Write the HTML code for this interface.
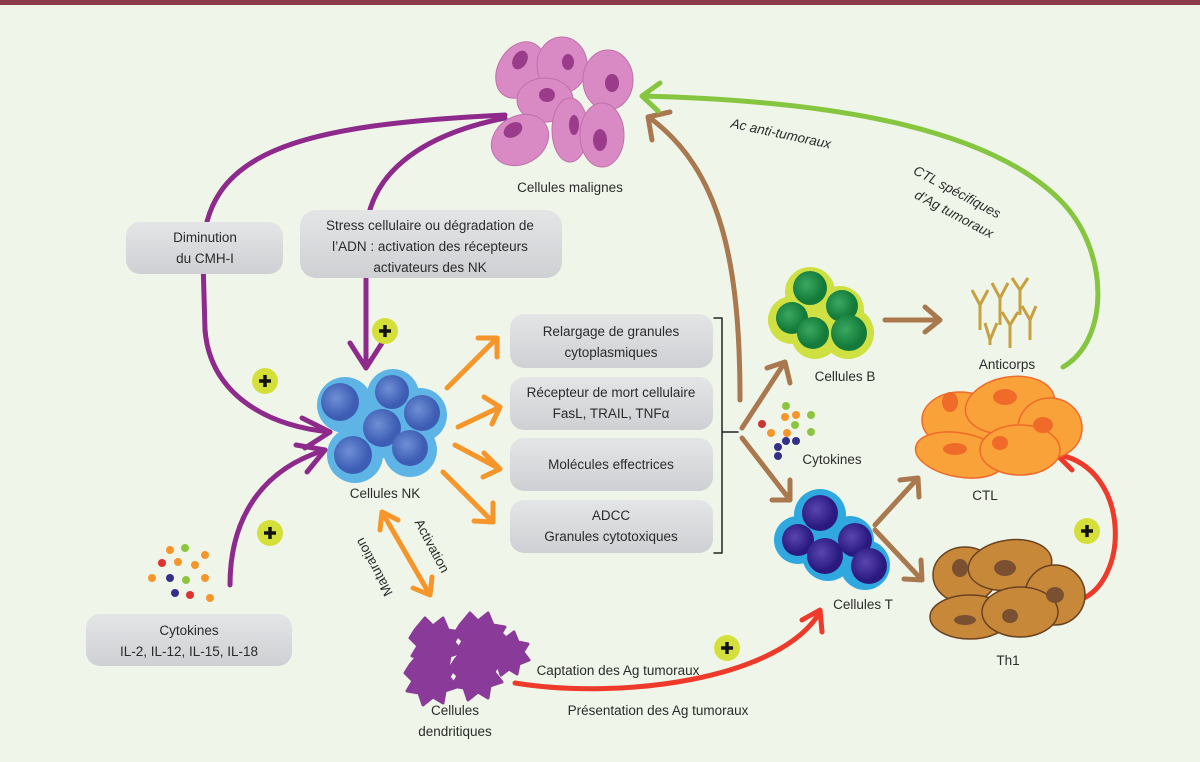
<!DOCTYPE html>
<html><head><meta charset="utf-8"><style>
body{margin:0;width:1200px;height:757px;overflow:hidden;background:#eff6e9;font-family:"Liberation Sans",sans-serif}
svg text{font-family:"Liberation Sans",sans-serif;font-size:13.5px;fill:#2b2b2b}
</style></head><body>
<svg width="1200" height="757" viewBox="0 0 1200 757" xmlns="http://www.w3.org/2000/svg">
<defs>
<linearGradient id="box" x1="0" y1="0" x2="0" y2="1"><stop offset="0" stop-color="#e4e5e7"/><stop offset="1" stop-color="#cfd0d3"/></linearGradient>
<radialGradient id="blue" cx=".4" cy=".4"><stop offset="0" stop-color="#6f8fd6"/><stop offset="1" stop-color="#3c5db3"/></radialGradient>
<radialGradient id="grn" cx=".4" cy=".4"><stop offset="0" stop-color="#3aa860"/><stop offset="1" stop-color="#137a3a"/></radialGradient>
<radialGradient id="tc" cx=".4" cy=".4"><stop offset="0" stop-color="#5a45b0"/><stop offset="1" stop-color="#2a1a80"/></radialGradient>
</defs>
<rect x="0" y="0" width="1200" height="5" fill="#8b3a4a"/>

<g fill="none" stroke-linecap="round" stroke-linejoin="round">
<!-- purple -->
<path d="M505,115 C300,125 200,150 203,260 L205,330 C210,390 260,425 330,432" stroke="#8e2a8c" stroke-width="5"/>
<path d="M505,118 C420,135 365,175 366,240 L366,368" stroke="#8e2a8c" stroke-width="5"/>
<path d="M230,585 C230,520 260,470 325,450" stroke="#8e2a8c" stroke-width="5"/>
<path d="M350,343 L366,368 L382,343" stroke="#8e2a8c" stroke-width="5"/>
<path d="M302,418 L330,432 L305,448" stroke="#8e2a8c" stroke-width="5"/>
<path d="M296,445 L325,450 L307,472" stroke="#8e2a8c" stroke-width="5"/>
<!-- orange -->
<g stroke="#f6962a" stroke-width="5">
<path d="M447,388 L497,338 M478,338 L497,338 L497,357"/>
<path d="M458,427 L500,407 M484,397 L500,407 L492,424"/>
<path d="M455,445 L500,469 M484,453 L500,469 L483,477"/>
<path d="M443,472 L493,522 M474,521 L493,522 L493,503"/>
<path d="M382,512 L430,595 M380,530 L382,512 L398,520 M413,588 L430,595 L432,577"/>
</g>
<!-- bracket -->
<path d="M714,318 L722,318 L722,553 L714,553 M722,432 L738,432" stroke="#222" stroke-width="1.5"/>
<!-- brown -->
<g stroke="#a9784e" stroke-width="5">
<path d="M740,400 C740,260 720,170 650,118 M652,140 L648,117 L670,112"/>
<path d="M742,428 L785,362 M767,368 L785,362 L790,383"/>
<path d="M742,438 L790,500 M772,500 L790,500 L790,480"/>
<path d="M885,320 L940,320 M925,307 L940,320 L925,332"/>
<path d="M875,525 L918,478 M900,480 L918,478 L919,497"/>
<path d="M875,530 L922,580 M904,579 L922,580 L921,560"/>
</g>
<!-- green -->
<path d="M1063,367 C1110,340 1110,250 1060,200 C980,120 800,100 642,96 M660,83 L642,96 L658,111" stroke="#86c540" stroke-width="5"/>
<!-- red -->
<path d="M515,683 C620,700 780,680 820,612 M802,620 L820,610 L822,632" stroke="#ee3a2a" stroke-width="5"/>
<path d="M1080,600 C1130,580 1130,470 1060,455 M1075,443 L1057,455 L1072,470" stroke="#ee3a2a" stroke-width="5"/>
</g>

<!-- plus circles -->
<g>
<g transform="translate(265,381)"><circle r="13" fill="#d5df3a"/><path d="M-6,0H6M0,-6V6" stroke="#111" stroke-width="3.5"/></g>
<g transform="translate(385,331)"><circle r="13" fill="#d5df3a"/><path d="M-6,0H6M0,-6V6" stroke="#111" stroke-width="3.5"/></g>
<g transform="translate(270,533)"><circle r="13" fill="#d5df3a"/><path d="M-6,0H6M0,-6V6" stroke="#111" stroke-width="3.5"/></g>
<g transform="translate(727,648)"><circle r="13" fill="#d5df3a"/><path d="M-6,0H6M0,-6V6" stroke="#111" stroke-width="3.5"/></g>
<g transform="translate(1087,531)"><circle r="13" fill="#d5df3a"/><path d="M-6,0H6M0,-6V6" stroke="#111" stroke-width="3.5"/></g>
</g>

<!-- boxes -->
<g fill="url(#box)">
<rect x="126" y="222" width="157" height="52" rx="14"/>
<rect x="300" y="210" width="262" height="68" rx="16"/>
<rect x="510" y="314" width="203" height="54" rx="14"/>
<rect x="510" y="377" width="203" height="53" rx="14"/>
<rect x="510" y="438" width="203" height="53" rx="14"/>
<rect x="510" y="500" width="203" height="53" rx="14"/>
<rect x="86" y="614" width="206" height="52" rx="14"/>
</g>

<!-- malignant cells -->
<g fill="#d98ac4" stroke="#c070aa" stroke-width="1">
<ellipse cx="520" cy="70" rx="22" ry="30" transform="rotate(30 520 70)"/>
<ellipse cx="562" cy="65" rx="25" ry="28"/>
<ellipse cx="608" cy="80" rx="25" ry="30"/>
<ellipse cx="545" cy="100" rx="28" ry="22"/>
<ellipse cx="520" cy="140" rx="30" ry="24" transform="rotate(-30 520 140)"/>
<ellipse cx="570" cy="130" rx="18" ry="32"/>
<ellipse cx="602" cy="135" rx="22" ry="32"/>
</g>
<g fill="#9a3c8a">
<ellipse cx="520" cy="60" rx="7" ry="10" transform="rotate(30 520 60)"/>
<ellipse cx="568" cy="62" rx="6" ry="8"/><ellipse cx="612" cy="83" rx="7" ry="9"/>
<ellipse cx="547" cy="95" rx="8" ry="7"/><ellipse cx="513" cy="130" rx="10" ry="7" transform="rotate(-30 513 130)"/>
<ellipse cx="574" cy="125" rx="5" ry="10"/><ellipse cx="600" cy="140" rx="7" ry="11"/>
</g>

<!-- NK cells -->
<g>
<g fill="#5fb4e6"><circle cx="345" cy="405" r="28"/><circle cx="393" cy="395" r="26"/><circle cx="385" cy="430" r="28"/><circle cx="420" cy="415" r="27"/><circle cx="355" cy="455" r="28"/><circle cx="410" cy="450" r="27"/></g>
<g fill="url(#blue)"><circle cx="340" cy="402" r="19"/><circle cx="392" cy="392" r="17"/><circle cx="382" cy="428" r="19"/><circle cx="422" cy="413" r="18"/><circle cx="353" cy="455" r="19"/><circle cx="410" cy="448" r="18"/></g>
</g>

<!-- B cells -->
<g fill="#cfe042"><circle cx="810" cy="292" r="25"/><circle cx="792" cy="320" r="24"/><circle cx="840" cy="310" r="24"/><circle cx="815" cy="335" r="24"/><circle cx="848" cy="333" r="26"/></g>
<g fill="url(#grn)"><circle cx="810" cy="288" r="17"/><circle cx="792" cy="318" r="16"/><circle cx="842" cy="306" r="16"/><circle cx="813" cy="333" r="16"/><circle cx="849" cy="333" r="18"/></g>

<!-- antibodies -->
<g stroke="#c7a040" stroke-width="3" fill="none">
<path d="M980,305 V330 M972,290 L980,305 L988,290"/><path d="M1000,298 V325 M992,283 L1000,298 L1008,283"/>
<path d="M1020,290 V315 M1012,278 L1020,290 L1028,278"/><path d="M990,340 V345 M985,323 L990,340 L997,323"/>
<path d="M1010,325 V348 M1002,312 L1010,325 L1018,312"/><path d="M1030,320 V340 M1022,306 L1030,320 L1036,306"/>
</g>

<!-- CTL -->
<g fill="#f9a23a" stroke="#f06a2a" stroke-width="1.5">
<ellipse cx="960" cy="420" rx="38" ry="28"/><ellipse cx="1010" cy="405" rx="45" ry="28" transform="rotate(-10 1010 405)"/>
<ellipse cx="1050" cy="428" rx="32" ry="30"/><ellipse cx="960" cy="455" rx="45" ry="22" transform="rotate(10 960 455)"/>
<ellipse cx="1020" cy="450" rx="40" ry="25"/>
</g>
<g fill="#f06a2a"><ellipse cx="950" cy="402" rx="8" ry="10"/><ellipse cx="1005" cy="397" rx="12" ry="8"/><ellipse cx="1043" cy="425" rx="10" ry="8"/><ellipse cx="955" cy="449" rx="12" ry="6"/><ellipse cx="1000" cy="443" rx="8" ry="7"/></g>

<!-- T cells -->
<g fill="#2fa8e0"><circle cx="820" cy="515" r="26"/><circle cx="798" cy="540" r="24"/><circle cx="828" cy="555" r="26"/><circle cx="850" cy="540" r="24"/><circle cx="865" cy="565" r="25"/></g>
<g fill="url(#tc)"><circle cx="820" cy="513" r="18"/><circle cx="798" cy="540" r="16"/><circle cx="825" cy="556" r="18"/><circle cx="855" cy="540" r="17"/><circle cx="869" cy="566" r="18"/></g>

<!-- Th1 -->
<g fill="#c7883a" stroke="#6a4220" stroke-width="1.5">
<ellipse cx="965" cy="575" rx="32" ry="28"/><ellipse cx="1010" cy="565" rx="42" ry="25" transform="rotate(-8 1010 565)"/>
<ellipse cx="1055" cy="595" rx="30" ry="30"/><ellipse cx="970" cy="617" rx="40" ry="22"/>
<ellipse cx="1020" cy="612" rx="38" ry="25"/>
</g>
<g fill="#7a5030"><ellipse cx="960" cy="568" rx="8" ry="9"/><ellipse cx="1005" cy="568" rx="11" ry="8"/><ellipse cx="1055" cy="595" rx="9" ry="8"/><ellipse cx="965" cy="620" rx="11" ry="5"/><ellipse cx="1010" cy="616" rx="8" ry="7"/></g>

<!-- dendritic -->
<g fill="#8a3a98" stroke="#8a3a98" stroke-width="3" stroke-linejoin="round">
<path d="M415,630 l10,-12 8,8 10,-8 5,12 12,2 -6,10 8,10 -12,4 -2,12 -10,-6 -10,8 -4,-12 -12,-2 6,-10 -8,-8z"/>
<path d="M460,625 l10,-12 8,8 10,-8 5,12 12,2 -6,10 8,10 -12,4 -2,12 -10,-6 -10,8 -4,-12 -12,-2 6,-10 -8,-8z"/>
<path d="M410,665 l10,-12 8,8 10,-8 5,12 12,2 -6,10 8,10 -12,4 -2,12 -10,-6 -10,8 -4,-12 -12,-2 6,-10 -8,-8z"/>
<path d="M455,660 l10,-12 8,8 10,-8 5,12 12,2 -6,10 8,10 -12,4 -2,12 -10,-6 -10,8 -4,-12 -12,-2 6,-10 -8,-8z"/>
<path d="M490,640 l8,-10 8,8 8,-6 4,10 10,2 -5,8 6,8 -10,4 -2,10 -8,-5 -8,6 -3,-10 -10,-2 5,-8 -6,-6z"/>
</g>

<!-- cytokine dots -->
<g>
<circle cx="170" cy="550" r="4" fill="#f6962a"/><circle cx="185" cy="548" r="4" fill="#8cc63f"/><circle cx="162" cy="563" r="4" fill="#d33"/><circle cx="178" cy="562" r="4" fill="#f6962a"/><circle cx="195" cy="565" r="4" fill="#f6962a"/><circle cx="205" cy="555" r="4" fill="#f6962a"/><circle cx="152" cy="578" r="4" fill="#f6962a"/><circle cx="170" cy="578" r="4" fill="#33308a"/><circle cx="186" cy="580" r="4" fill="#8cc63f"/><circle cx="205" cy="578" r="4" fill="#f6962a"/><circle cx="175" cy="593" r="4" fill="#33308a"/><circle cx="190" cy="595" r="4" fill="#d33"/><circle cx="210" cy="598" r="4" fill="#f6962a"/>
<circle cx="786" cy="406" r="4" fill="#8cc63f"/><circle cx="785" cy="417" r="4" fill="#f6962a"/><circle cx="796" cy="415" r="4" fill="#f6962a"/><circle cx="811" cy="415" r="4" fill="#8cc63f"/><circle cx="762" cy="424" r="4" fill="#c33"/><circle cx="795" cy="425" r="4" fill="#8cc63f"/><circle cx="771" cy="433" r="4" fill="#f6962a"/><circle cx="787" cy="433" r="4" fill="#f6962a"/><circle cx="811" cy="432" r="4" fill="#8cc63f"/><circle cx="786" cy="441" r="4" fill="#33308a"/><circle cx="796" cy="441" r="4" fill="#33308a"/><circle cx="778" cy="447" r="4" fill="#33308a"/><circle cx="778" cy="456" r="4" fill="#33308a"/>
</g>

<!-- labels -->
<g text-anchor="middle">
<text x="570" y="192">Cellules malignes</text>
<text x="205" y="242">Diminution</text><text x="205" y="263">du CMH-I</text>
<text x="430" y="230">Stress cellulaire ou dégradation de</text>
<text x="430" y="251">l’ADN : activation des récepteurs</text>
<text x="430" y="272">activateurs des NK</text>
<text x="611" y="336">Relargage de granules</text><text x="611" y="357">cytoplasmiques</text>
<text x="611" y="397">Récepteur de mort cellulaire</text><text x="611" y="418">FasL, TRAIL, TNFα</text>
<text x="611" y="469">Molécules effectrices</text>
<text x="611" y="520">ADCC</text><text x="611" y="541">Granules cytotoxiques</text>
<text x="385" y="498">Cellules NK</text>
<text x="189" y="635">Cytokines</text><text x="189" y="656">IL-2, IL-12, IL-15, IL-18</text>
<text x="455" y="715">Cellules</text><text x="455" y="736">dendritiques</text>
<text x="618" y="675">Captation des Ag tumoraux</text>
<text x="658" y="715">Présentation des Ag tumoraux</text>
<text x="845" y="381">Cellules B</text>
<text x="1007" y="369">Anticorps</text>
<text x="832" y="464">Cytokines</text>
<text x="985" y="500">CTL</text>
<text x="863" y="609">Cellules T</text>
<text x="1008" y="665">Th1</text>
<text x="780" y="138" transform="rotate(12 780 138)" font-style="italic">Ac anti-tumoraux</text>
<text x="955" y="196" transform="rotate(28 955 196)" font-style="italic">CTL spécifiques</text>
<text x="952" y="218" transform="rotate(28 952 218)" font-style="italic">d’Ag tumoraux</text>
<text x="428" y="548" transform="rotate(62 428 548)">Activation</text>
<text x="378" y="565" transform="rotate(-118 378 565)">Maturation</text>
</g>
</svg>
</body></html>
